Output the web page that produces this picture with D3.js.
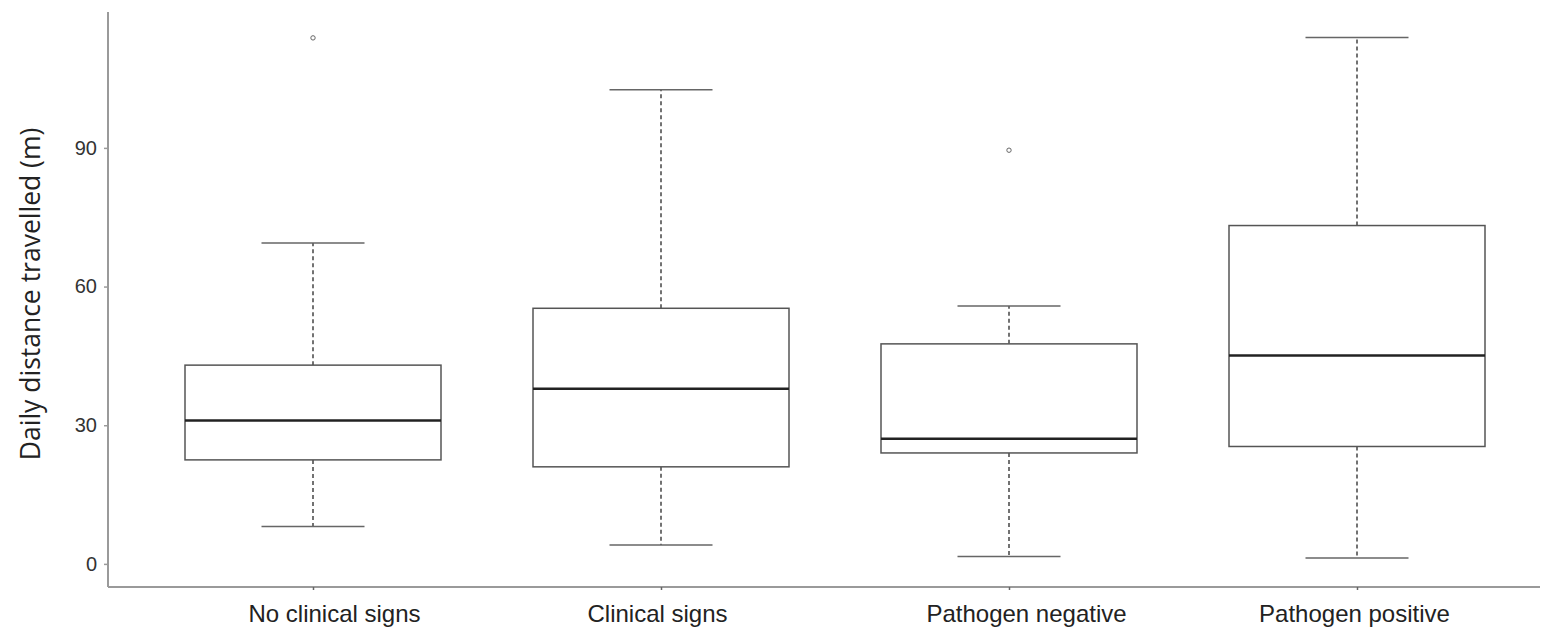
<!DOCTYPE html>
<html>
<head>
<meta charset="utf-8">
<script src="https://cdn.jsdelivr.net/npm/d3@7"></script>
<style>
  html, body { margin: 0; padding: 0; background: #fff; }
  svg { display: block; font-family: "Open Sans", "Noto Sans", sans-serif; }
</style>
</head>
<body>
<svg id="chart" width="1548" height="636"></svg>
<script>
// Groups and their box-plot summaries (daily distance, m)
const categories = ["No clinical signs", "Clinical signs", "Pathogen negative", "Pathogen positive"];
const whiskerLow = [8.1, 4.1, 1.6, 1.3];
const q1 = [22.5, 21.0, 24.0, 25.4];
const median = [31.0, 37.9, 27.1, 45.1];
const q3 = [43.0, 55.3, 47.6, 73.2];
const whiskerHigh = [69.4, 102.6, 55.8, 113.9];
const outliers = [[113.8], [], [89.5], []];
const yTicks = [0, 30, 60, 90];

const svg = d3.select("#chart");

const y = d3.scaleLinear().domain([-5, 119.4]).range([587, 12]);
const x = d3.scalePoint().domain(categories).range([313, 1357]);

const boxW = 256;
const capW = 103;
const axisColor = "#9a9a9a";
// horizontal nudges of the category labels relative to their tick
const labelShift = [21, -4, 17, -3];

// Axes lines
svg.append("line")
  .attr("x1", 108).attr("x2", 108).attr("y1", y(119.4)).attr("y2", y(-5))
  .attr("stroke", axisColor).attr("stroke-width", 2);
svg.append("line")
  .attr("x1", 108).attr("x2", 1540).attr("y1", y(-5)).attr("y2", y(-5))
  .attr("stroke", axisColor).attr("stroke-width", 2);

// Y axis ticks and labels
const yAxis = svg.append("g").attr("transform", "translate(108,0)")
  .call(d3.axisLeft(y).tickValues(yTicks).tickSize(4).tickPadding(7));
yAxis.select(".domain").remove();
yAxis.selectAll(".tick line").attr("stroke", axisColor).attr("stroke-width", 1.5);
yAxis.selectAll(".tick text").attr("fill", "#333").style("font-size", "20px");

// X axis ticks and labels
const xAxis = svg.append("g").attr("transform", `translate(0,${y(-5)})`)
  .call(d3.axisBottom(x).tickSize(3).tickPadding(15));
xAxis.select(".domain").remove();
xAxis.selectAll(".tick line").attr("stroke", "#666").attr("stroke-width", 1.5);
xAxis.selectAll(".tick text")
  .attr("fill", "#222")
  .attr("dx", (d, i) => labelShift[i])
  .style("font-size", "24px");

// Y axis title
svg.append("text")
  .attr("transform", "translate(40,294) rotate(-90)")
  .attr("text-anchor", "middle")
  .attr("fill", "#222")
  .style("font-size", "26.5px")
  .text("Daily distance travelled (m)");

// Boxes
const groups = svg.append("g").selectAll("g")
  .data(categories.map((c, i) => ({ c, i })))
  .join("g");

// whiskers (dashed)
groups.append("line")
  .attr("x1", d => x(d.c)).attr("x2", d => x(d.c))
  .attr("y1", d => y(q3[d.i])).attr("y2", d => y(whiskerHigh[d.i]))
  .attr("stroke", "#444").attr("stroke-width", 1.5).attr("stroke-dasharray", "4,3");
groups.append("line")
  .attr("x1", d => x(d.c)).attr("x2", d => x(d.c))
  .attr("y1", d => y(q1[d.i])).attr("y2", d => y(whiskerLow[d.i]))
  .attr("stroke", "#444").attr("stroke-width", 1.5).attr("stroke-dasharray", "4,3");

// whisker caps
groups.append("line")
  .attr("x1", d => x(d.c) - capW / 2).attr("x2", d => x(d.c) + capW / 2)
  .attr("y1", d => y(whiskerHigh[d.i])).attr("y2", d => y(whiskerHigh[d.i]))
  .attr("stroke", "#666").attr("stroke-width", 1.5);
groups.append("line")
  .attr("x1", d => x(d.c) - capW / 2).attr("x2", d => x(d.c) + capW / 2)
  .attr("y1", d => y(whiskerLow[d.i])).attr("y2", d => y(whiskerLow[d.i]))
  .attr("stroke", "#666").attr("stroke-width", 1.5);

// interquartile box
groups.append("rect")
  .attr("x", d => x(d.c) - boxW / 2)
  .attr("width", boxW)
  .attr("y", d => y(q3[d.i]))
  .attr("height", d => y(q1[d.i]) - y(q3[d.i]))
  .attr("fill", "#fff").attr("stroke", "#555").attr("stroke-width", 1.5);

// median
groups.append("line")
  .attr("x1", d => x(d.c) - boxW / 2).attr("x2", d => x(d.c) + boxW / 2)
  .attr("y1", d => y(median[d.i])).attr("y2", d => y(median[d.i]))
  .attr("stroke", "#222").attr("stroke-width", 2.5);

// outliers
groups.selectAll("circle")
  .data(d => outliers[d.i].map(v => ({ c: d.c, v })))
  .join("circle")
  .attr("cx", d => x(d.c)).attr("cy", d => y(d.v)).attr("r", 2.2)
  .attr("fill", "none").attr("stroke", "#666").attr("stroke-width", 1);
</script>
</body>
</html>
